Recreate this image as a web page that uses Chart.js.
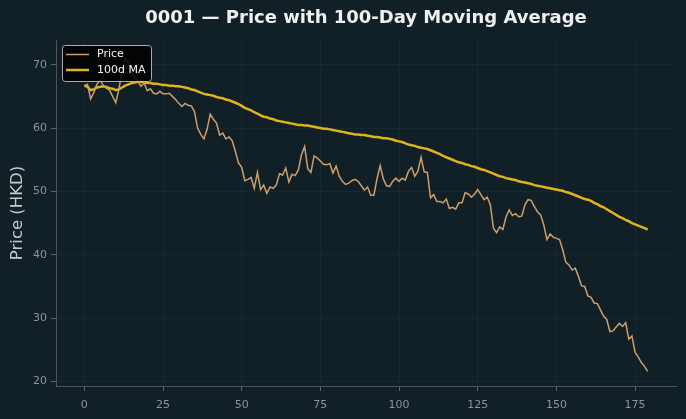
<!DOCTYPE html>
<html>
<head>
<meta charset="utf-8">
<script src="https://cdn.jsdelivr.net/npm/chart.js@4.4.1/dist/chart.umd.min.js"></script>
<style>
  html, body { margin: 0; padding: 0; background: #111f26; }
  #wrap { width: 686px; height: 419px; position: relative; }
</style>
</head>
<body>
<div id="wrap"><canvas id="priceChart" width="686" height="419"></canvas></div>
<script>
// 日次の終値 (HKD)
var price = [
  66.7, 66.9, 64.6, 65.6, 66.9, 67.6, 66.7, 66.3, 66.0, 65.0,
  64.0, 66.2, 69.0, 71.0, 70.2, 69.0, 68.0, 67.4, 66.6, 67.1,
  65.9, 66.2, 65.5, 65.4, 65.8, 65.4, 65.4, 65.5, 65.0, 64.5,
  63.9, 63.4, 63.9, 63.6, 63.5, 62.6, 60.0, 59.0, 58.3, 59.8,
  62.2, 61.4, 60.8, 58.9, 59.2, 58.3, 58.6, 58.0, 56.3, 54.5,
  53.8, 51.7, 51.9, 52.2, 50.5, 53.0, 50.3, 51.0, 49.7, 50.7,
  50.5, 51.0, 52.8, 52.6, 53.7, 51.5, 52.7, 52.5, 53.4, 55.8,
  57.1, 53.6, 53.0, 55.6, 55.3, 54.8, 54.3, 54.2, 54.4, 52.9,
  54.0, 52.4, 51.6, 51.1, 51.3, 51.7, 51.9, 51.6, 50.9, 50.2,
  50.7, 49.4, 49.4, 52.0, 54.1, 52.0, 50.9, 50.8, 51.6, 52.1,
  51.6, 52.1, 51.8, 53.2, 53.8, 52.4, 53.2, 55.4, 53.1, 53.0,
  49.0, 49.5, 48.4, 48.4, 48.2, 48.8, 47.3, 47.5, 47.2, 48.2,
  48.2, 49.8, 49.6, 49.1, 49.6, 50.3, 49.5, 48.7, 49.1, 47.9,
  44.2, 43.5, 44.4, 44.0, 46.0, 47.1, 46.2, 46.5, 46.0, 46.1,
  47.9, 48.7, 48.6, 47.6, 46.8, 46.3, 44.7, 42.4, 43.3, 42.8,
  42.6, 42.4, 40.8, 38.8, 38.4, 37.6, 37.9, 36.6, 35.1, 35.0,
  33.5, 33.3, 32.4, 32.3, 31.3, 30.3, 29.8, 27.9, 28.0, 28.6,
  29.2, 28.7, 29.3, 26.7, 27.2, 24.6, 23.9, 23.0, 22.4, 21.6
];

// 100日移動平均
var ma100 = [
  66.7, 66.5, 66.0, 66.1, 66.4, 66.5, 66.6, 66.5, 66.3, 66.2,
  66.0, 66.1, 66.4, 66.7, 66.9, 67.1, 67.2, 67.3, 67.3, 67.2,
  67.1, 67.1, 67.0, 67.0, 66.9, 66.8, 66.8, 66.7, 66.7, 66.6,
  66.6, 66.5, 66.4, 66.3, 66.1, 66.0, 65.8, 65.6, 65.4, 65.3,
  65.2, 65.1, 64.9, 64.8, 64.7, 64.5, 64.4, 64.2, 64.0, 63.8,
  63.5, 63.2, 63.0, 62.8, 62.5, 62.3, 62.0, 61.8, 61.7, 61.5,
  61.4, 61.2, 61.1, 61.0, 60.9, 60.8, 60.7, 60.6, 60.5, 60.5,
  60.4, 60.4, 60.3, 60.2, 60.1, 60.0, 59.9, 59.9, 59.8, 59.7,
  59.6, 59.5, 59.4, 59.3, 59.2, 59.1, 59.0, 59.0, 58.9, 58.9,
  58.8, 58.7, 58.6, 58.6, 58.5, 58.4, 58.4, 58.3, 58.2, 58.0,
  57.9, 57.8, 57.6, 57.4, 57.3, 57.2, 57.0, 56.9, 56.8, 56.7,
  56.5, 56.3, 56.1, 55.9, 55.6, 55.4, 55.2, 55.0, 54.8, 54.6,
  54.5, 54.3, 54.2, 54.0, 53.9, 53.7, 53.5, 53.4, 53.2, 53.0,
  52.8, 52.6, 52.4, 52.3, 52.1, 52.0, 51.9, 51.8, 51.6, 51.5,
  51.4, 51.3, 51.2, 51.0, 50.9, 50.8, 50.7, 50.6, 50.5, 50.4,
  50.3, 50.2, 50.1, 49.9, 49.8, 49.6, 49.4, 49.2, 49.0, 48.8,
  48.7, 48.5, 48.2, 48.0, 47.7, 47.5, 47.2, 46.9, 46.6, 46.3,
  46.0, 45.8, 45.5, 45.3, 45.0, 44.8, 44.6, 44.4, 44.2, 44.0
];

var xTicks = [0, 25, 50, 75, 100, 125, 150, 175];
var yTicks = [20, 30, 40, 50, 60, 70];

var chartTitle = '0001 \u2014 Price with 100-Day Moving Average';
var FONT = "'DejaVu Sans', sans-serif";
var BG = '#111f26';

function toPoints(arr) {
  return arr.map(function (v, i) { return { x: i, y: v }; });
}

// 背景
var bgPlugin = {
  id: 'bg',
  beforeDraw: function (chart) {
    var c = chart.ctx;
    c.save();
    c.fillStyle = BG;
    c.fillRect(0, 0, chart.width, chart.height);
    c.restore();
  }
};

// タイトル (プロット領域の中央)
var titlePlugin = {
  id: 'plotTitle',
  afterDraw: function (chart) {
    var c = chart.ctx, a = chart.chartArea;
    c.save();
    c.font = 'bold 18px ' + FONT;
    c.fillStyle = '#f0f0f0';
    c.textAlign = 'center';
    c.textBaseline = 'middle';
    c.fillText(chartTitle, (a.left + a.right) / 2, 18);
    c.restore();
  }
};

// 凡例 (左上の枠付き)
var legendPlugin = {
  id: 'boxLegend',
  afterDraw: function (chart) {
    var c = chart.ctx, a = chart.chartArea;
    var x = a.left + 6, y = a.top + 5, w = 89, h = 36;
    c.save();
    c.fillStyle = 'rgba(0,0,0,0.85)';
    c.strokeStyle = 'rgba(210,210,210,0.8)';
    c.lineWidth = 1;
    c.beginPath();
    c.roundRect(x + 0.5, y + 0.5, w, h, 3);
    c.fill();
    c.stroke();
    c.font = '11px ' + FONT;
    c.textBaseline = 'middle';
    chart.data.datasets.forEach(function (ds, k) {
      var ly = y + 9.5 + k * 15.5;
      c.strokeStyle = ds.borderColor;
      c.lineWidth = ds.borderWidth;
      c.beginPath();
      c.moveTo(x + 4, ly);
      c.lineTo(x + 27, ly);
      c.stroke();
      c.fillStyle = '#f4f4f4';
      c.fillText(ds.label, x + 35, ly);
    });
    c.restore();
  }
};

var data = {
  datasets: [{
    label: 'Price',
    data: toPoints(price),
    borderColor: '#cc9e6c',
    borderWidth: 1.5,
    pointRadius: 0,
    tension: 0,
    fill: false
  }, {
    label: '100d MA',
    data: toPoints(ma100),
    borderColor: '#ddb41c',
    borderWidth: 2.5,
    pointRadius: 0,
    tension: 0,
    fill: false
  }]
};

var options = {
  responsive: false,
  animation: false,
  layout: { padding: { top: 40, right: 10, left: 0, bottom: 0 } },
  plugins: {
    legend: { display: false },
    title: { display: false },
    tooltip: { enabled: false }
  },
  scales: {
    x: {
      type: 'linear',
      min: -9,
      max: 188,
      afterBuildTicks: function (s) { s.ticks = xTicks.map(function (v) { return { value: v }; }); },
      afterFit: function (s) { s.height = 33; },
      grid: {
        color: '#19282f',
        lineWidth: 1,
        drawTicks: true,
        tickLength: 5,
        tickColor: '#5b666b'
      },
      border: { color: '#4b565b', width: 1 },
      ticks: {
        color: '#8a9499',
        font: { family: FONT, size: 11 },
        padding: 8,
        maxRotation: 0
      }
    },
    y: {
      type: 'linear',
      min: 19.3,
      max: 73.9,
      afterBuildTicks: function (s) { s.ticks = yTicks.map(function (v) { return { value: v }; }); },
      afterFit: function (s) { s.width = 56; },
      grid: {
        color: '#19282f',
        lineWidth: 1,
        drawTicks: true,
        tickLength: 5,
        tickColor: '#5b666b'
      },
      border: { color: '#4b565b', width: 1 },
      ticks: {
        color: '#8a9499',
        font: { family: FONT, size: 11 },
        padding: 4
      },
      title: {
        display: true,
        text: 'Price (HKD)',
        color: '#c4c9cc',
        font: { family: FONT, size: 16.5 },
        padding: { top: 8, bottom: 0 }
      }
    }
  }
};

var priceChart = new Chart(document.getElementById('priceChart'), {
  type: 'line',
  data: data,
  options: options,
  plugins: [bgPlugin, titlePlugin, legendPlugin]
});
</script>
</body>
</html>
